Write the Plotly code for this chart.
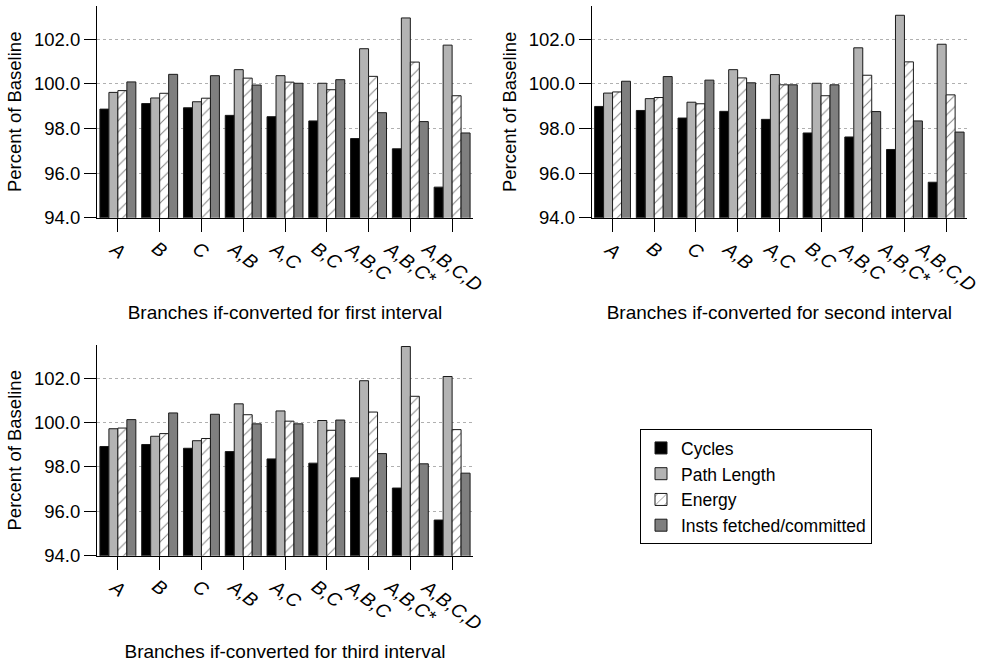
import plotly.graph_objects as go

categories = ["A", "B", "C", "A,B", "A,C", "B,C", "A,B,C", "A,B,C*", "A,B,C,D"]
series_names = ["Cycles", "Path Length", "Energy", "Insts fetched/committed"]
panel_titles = ["Branches if-converted for first interval",
                "Branches if-converted for second interval",
                "Branches if-converted for third interval"]
y_ticks = [94.0, 96.0, 98.0, 100.0, 102.0]

first_cycles = [98.87, 99.12, 98.93, 98.59, 98.53, 98.34, 97.55, 97.09, 95.37]
first_path = [99.62, 99.37, 99.20, 100.64, 100.37, 100.03, 101.58, 102.96, 101.74]
first_energy = [99.70, 99.58, 99.36, 100.26, 100.08, 99.74, 100.34, 100.98, 99.47]
first_insts = [100.09, 100.43, 100.37, 99.95, 100.03, 100.19, 98.71, 98.31, 97.80]

second_cycles = [98.99, 98.81, 98.47, 98.77, 98.41, 97.80, 97.62, 97.06, 95.59]
second_path = [99.59, 99.34, 99.18, 100.64, 100.42, 100.03, 101.62, 103.08, 101.78]
second_energy = [99.64, 99.39, 99.11, 100.27, 99.96, 99.47, 100.39, 100.99, 99.51]
second_insts = [100.12, 100.33, 100.17, 100.05, 99.96, 99.96, 98.76, 98.34, 97.84]

third_cycles = [98.92, 99.01, 98.84, 98.69, 98.36, 98.17, 97.51, 97.05, 95.61]
third_path = [99.72, 99.38, 99.18, 100.84, 100.52, 100.09, 101.88, 103.42, 102.07]
third_energy = [99.75, 99.50, 99.28, 100.35, 100.06, 99.65, 100.47, 101.18, 99.68]
third_insts = [100.13, 100.43, 100.37, 99.94, 99.94, 100.11, 98.60, 98.14, 97.72]

panels = [
    [first_cycles, first_path, first_energy, first_insts],
    [second_cycles, second_path, second_energy, second_insts],
    [third_cycles, third_path, third_energy, third_insts],
]

FONT = "Liberation Sans, Arial, Helvetica, sans-serif"
styles = [
    dict(color="#000000", pattern=None),
    dict(color="#b3b3b3", pattern=None),
    dict(color="#ffffff", pattern=dict(shape="/", fgcolor="#000000", bgcolor="#ffffff", size=8, solidity=0.12)),
    dict(color="#7f7f7f", pattern=None),
]

W, H = 982, 665
# pixel boxes of plot areas: (left, right, top, bottom)
boxes = [(97, 473, 6, 221), (591.7, 967, 6, 221), (97, 473, 350, 564.3)]

fig = go.Figure()
axis_ids = ["", "2", "3"]
for p, (vals, aid) in enumerate(zip(panels, axis_ids)):
    for s, name in enumerate(series_names):
        st = styles[s]
        marker = dict(color=st["color"], line=dict(color="#1a1a1a", width=1))
        if st["pattern"] is not None:
            marker["pattern"] = st["pattern"]
        fig.add_trace(go.Bar(
            x=categories, y=vals[s], name=name, marker=marker,
            xaxis="x" + aid, yaxis="y" + aid,
            showlegend=(p == 0), legendgroup=name,
        ))

for p, aid in enumerate(axis_ids):
    l, r, t, b = boxes[p]
    fig.update_layout(**{
        "xaxis" + aid: dict(
            domain=[l / W, r / W], anchor="y" + aid,
            type="category", categoryorder="array", categoryarray=categories,
            range=[-0.5, 8.5],
            showline=True, linecolor="#000", linewidth=1,
            ticks="outside", ticklen=13, tickcolor="#000", tickwidth=1,
            showticklabels=False, showgrid=False,
            title=dict(text=panel_titles[p], font=dict(family=FONT, size=19, color="#000"), standoff=75),
        ),
        "yaxis" + aid: dict(
            domain=[1 - b / H, 1 - t / H], anchor="x" + aid,
            range=[94, 103.5], tickvals=y_ticks, tickformat=".1f",
            showline=True, linecolor="#000", linewidth=1,
            ticks="outside", ticklen=12, tickcolor="#000", tickwidth=1,
            tickfont=dict(family=FONT, size=18.5, color="#000"),
            showgrid=True, gridcolor="#b0b0b0", griddash="dot", gridwidth=1,
            zeroline=False,
            title=dict(text="Percent of Baseline", font=dict(family=FONT, size=18.5, color="#000"), standoff=7),
        ),
    })
    for c in categories:
        fig.add_annotation(
            x=c, y=0, xref="x" + aid, yref="y" + aid + " domain",
            text=c, showarrow=False, textangle=37,
            xanchor="center", yanchor="top", yshift=-17,
            font=dict(family=FONT, size=19, color="#000", style="italic"),
        )

fig.update_layout(
    width=W, height=H,
    margin=dict(l=0, r=0, t=0, b=0),
    paper_bgcolor="#fff", plot_bgcolor="#fff",
    barmode="group", bargap=0.14, bargroupgap=0,
    font=dict(family=FONT, size=18, color="#000"),
    legend=dict(
        x=640 / W, xanchor="left", y=1 - 494 / H, yanchor="middle",
        bordercolor="#000", borderwidth=1, bgcolor="#fff",
        font=dict(family=FONT, size=17.5, color="#000"),
        itemwidth=30, tracegroupgap=0,
    ),
)

fig.write_html("out.html")
